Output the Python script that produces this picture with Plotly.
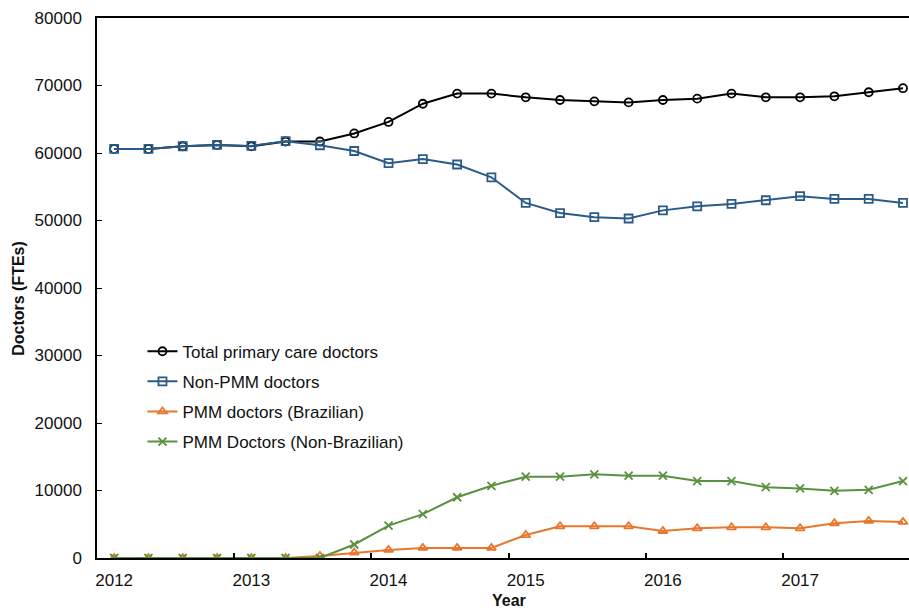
import plotly.graph_objects as go

year_labels = ["2012", "2013", "2014", "2015", "2016", "2017"]
quarter_index = list(range(24))

total = [60600, 60600, 61000, 61200, 61000, 61700, 61700, 62900, 64600, 67300, 68800, 68800,
         68250, 67850, 67650, 67500, 67850, 68050, 68800, 68250, 68250, 68400, 69000, 69600]
non_pmm = [60600, 60600, 61000, 61200, 61050, 61750, 61150, 60300, 58500, 59100, 58300, 56400,
           52600, 51100, 50500, 50300, 51500, 52100, 52450, 53000, 53600, 53200, 53200, 52600]
pmm_brazilian = [0, 0, 0, 0, 0, 0, 300, 800, 1200, 1500, 1500, 1500,
                 3400, 4700, 4700, 4700, 4000, 4400, 4550, 4550, 4400, 5150, 5500, 5350]
pmm_non_brazilian = [0, 0, 0, 0, 0, 0, 0, 2000, 4800, 6500, 9000, 10700,
                     12050, 12050, 12400, 12200, 12200, 11400, 11400, 10500, 10300, 9950, 10100, 11400]

series = [
    ("Total primary care doctors", total, "#000000", "circle-open"),
    ("Non-PMM doctors", non_pmm, "#2B5B88", "square-open"),
    ("PMM doctors (Brazilian)", pmm_brazilian, "#E8772E", "triangle-up-open"),
    ("PMM Doctors (Non-Brazilian)", pmm_non_brazilian, "#5A9140", "x-thin-open"),
]

FONT = "Arial, Liberation Sans, sans-serif"
TXT = "#111111"

fig = go.Figure()
for name, vals, color, sym in series:
    fig.add_trace(go.Scatter(
        x=quarter_index, y=vals, name=name, mode="lines+markers",
        legendgroup=name,
        line=dict(color=color, width=2),
        marker=dict(symbol=sym, size=8, color=color, line=dict(color=color, width=1.8)),
    ))

fig.update_layout(
    width=909, height=608, autosize=False,
    margin=dict(l=97, r=0, t=18, b=50),
    paper_bgcolor="white", plot_bgcolor="white",
    font=dict(family=FONT, size=17, color=TXT),
    showlegend=True,
    legend=dict(x=0.056, y=0.4154, xanchor="left", yanchor="top",
                font=dict(size=17, family=FONT, color=TXT),
                tracegroupgap=5, bgcolor="rgba(0,0,0,0)", itemwidth=30),
    xaxis=dict(
        range=[-0.5, 23.175], tickmode="array",
        tickvals=[0, 4, 8, 12, 16, 20], ticktext=year_labels,
        ticks="", showgrid=False, zeroline=False,
        showline=True, linecolor="black", linewidth=2, mirror=True,
        ticklabelstandoff=6,
        tickfont=dict(size=17, family=FONT, color=TXT),
        minor=dict(tickmode="array", tickvals=[3.5, 7.5, 11.5, 15.5, 19.5],
                   ticks="inside", ticklen=5, tickcolor="black", tickwidth=1.5, showgrid=False),
    ),
    yaxis=dict(
        range=[0, 80000], tickmode="array",
        tickvals=[0, 10000, 20000, 30000, 40000, 50000, 60000, 70000, 80000],
        ticktext=["0", "10000", "20000", "30000", "40000", "50000", "60000", "70000", "80000"],
        ticks="inside", ticklen=5, tickcolor="black", tickwidth=1,
        showgrid=False, zeroline=False,
        showline=True, linecolor="black", linewidth=1.5,
        ticklabelstandoff=10,
        tickfont=dict(size=17, family=FONT, color=TXT),
    ),
    annotations=[
        dict(text="<b>Doctors (FTEs)</b>", xref="paper", yref="paper",
             x=-0.096, y=0.48, xanchor="center", yanchor="middle", textangle=-90,
             showarrow=False, font=dict(size=16, family=FONT, color=TXT)),
        dict(text="<b>Year</b>", xref="paper", yref="paper",
             x=0.508, y=-0.078, xanchor="center", yanchor="middle",
             showarrow=False, font=dict(size=16, family=FONT, color=TXT)),
    ],
)

fig.write_html("out.html", config={"displayModeBar": False},
               post_script="document.body.style.margin='0';document.body.style.overflow='hidden';")
